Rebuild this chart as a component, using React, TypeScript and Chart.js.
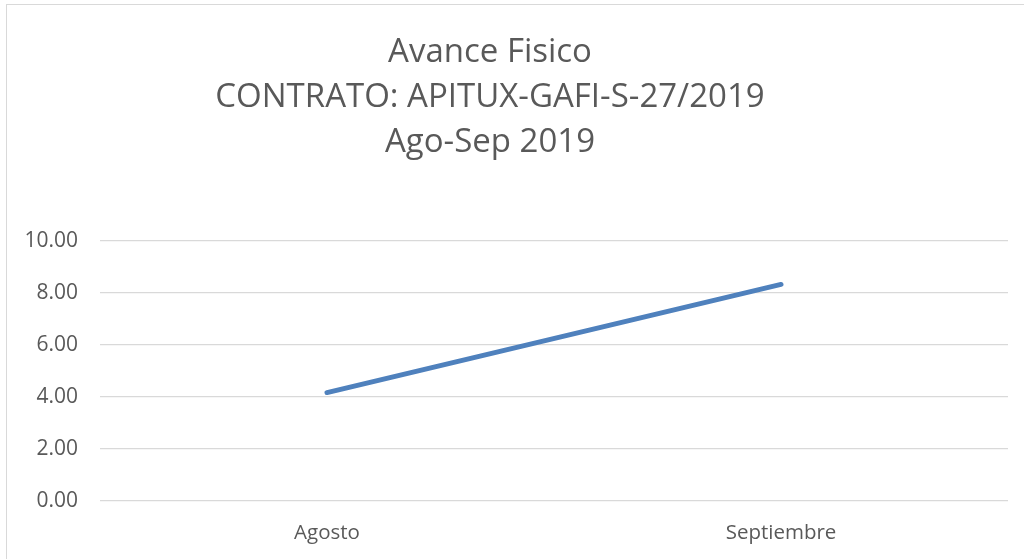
import React, { useEffect, useRef } from "react";
import { Chart, registerables } from "chart.js";

Chart.register(...registerables);

const titleLines = ["Avance Fisico", "CONTRATO: APITUX-GAFI-S-27/2019", "Ago-Sep 2019"];
const categories = ["Agosto", "Septiembre"];
const avanceValues = [4.17, 8.33];
const yMin = 0;
const yMax = 10;
const yStep = 2;

const titlePlugin = {
  id: "multiTitle",
  afterDraw(chart: any) {
    const ctx = chart.ctx;
    ctx.save();
    ctx.fillStyle = "#595959";
    ctx.font = "33px 'Open Sans'";
    ctx.textAlign = "center";
    ctx.textBaseline = "alphabetic";
    titleLines.forEach((t, i) => ctx.fillText(t, 490, 62 + i * 45));
    ctx.restore();
  },
};

export default function App() {
  const ref = useRef<HTMLCanvasElement>(null);
  useEffect(() => {
    if (!ref.current) return;
    const chart = new Chart(ref.current, {
      type: "line",
      data: {
        labels: categories,
        datasets: [
          {
            label: "Avance",
            data: avanceValues,
            borderColor: "#4F81BD",
            borderWidth: 5,
            borderCapStyle: "round",
            pointRadius: 0,
            tension: 0,
            fill: false,
          },
        ],
      },
      options: {
        animation: false,
        responsive: false,
        maintainAspectRatio: false,
        layout: { padding: { top: 241, right: 16, left: 0, bottom: 0 } },
        plugins: { legend: { display: false }, title: { display: false }, tooltip: { enabled: false } },
        scales: {
          x: {
            offset: true,
            grid: { display: false, drawTicks: false },
            border: { display: false },
            ticks: { color: "#595959", font: { family: "'Open Sans'", size: 20.5 }, padding: 20 },
            afterFit: (s: any) => { s.height = 58; },
          },
          y: {
            min: yMin,
            max: yMax,
            grid: { color: "#d9d9d9", lineWidth: 1.3, drawTicks: false },
            border: { display: false },
            ticks: {
              stepSize: yStep,
              color: "#595959",
              font: { family: "'Open Sans'", size: 21 },
              padding: 22,
              callback: (v: any) => Number(v).toFixed(2),
            },
            afterFit: (s: any) => { s.width = 100; },
          },
        },
      },
      plugins: [titlePlugin],
    } as any);
    return () => chart.destroy();
  }, []);
  return (
    <div style={{ position: "fixed", left: 0, top: 0, width: 1024, height: 559, overflow: "hidden", background: "#fff" }}>
      <div style={{ position: "absolute", left: 6, top: 4, width: 1100, height: 700, border: "1.5px solid #d9d9d9" }} />
      <canvas ref={ref} width={1024} height={559} style={{ position: "absolute", left: 0, top: 0 }} />
    </div>
  );
}
